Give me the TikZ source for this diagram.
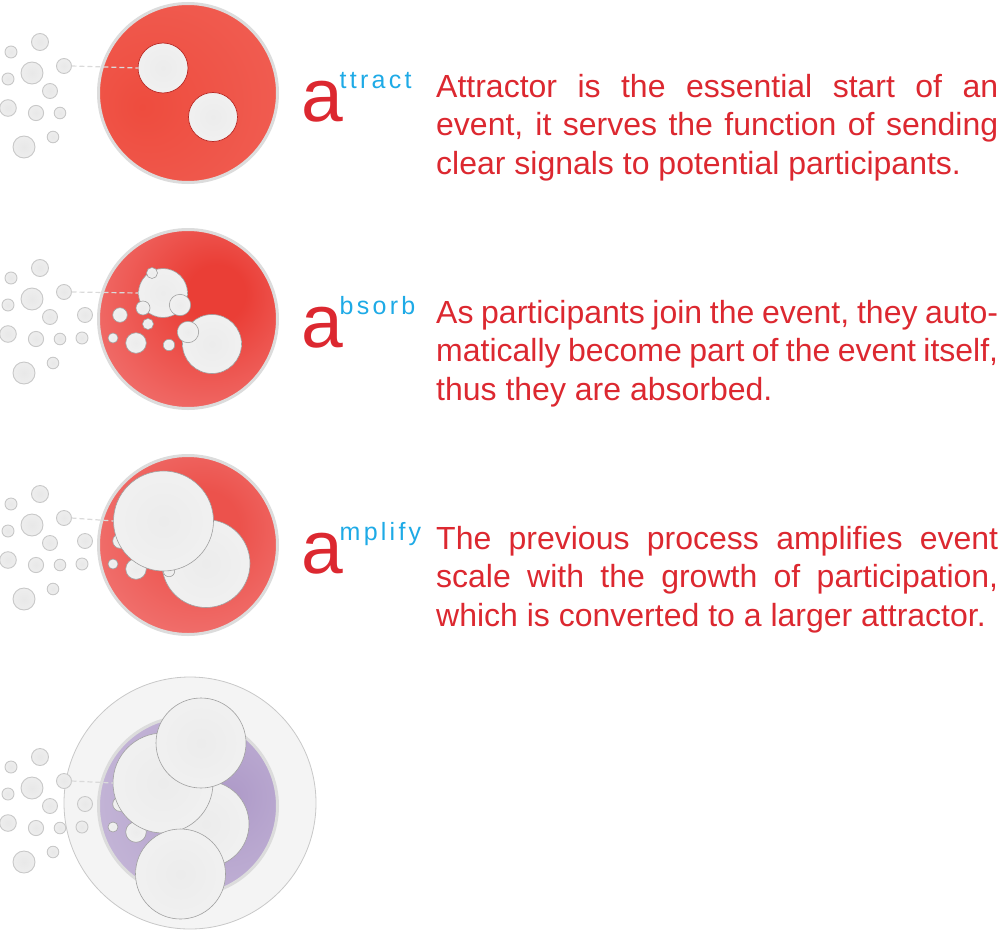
\documentclass[tikz,border=0pt]{standalone}
\usepackage{fontspec}
\setmainfont{Liberation Sans}
\newfontfamily\supfont[LetterSpace=13]{Liberation Sans}
\definecolor{txtred}{RGB}{220,40,48}
\definecolor{supcyan}{RGB}{30,170,230}
\definecolor{ringgray}{RGB}{220,220,220}
\definecolor{scircle}{RGB}{200,200,200}
\definecolor{wline}{RGB}{160,160,160}
\definecolor{wlinered}{RGB}{185,40,35}
\definecolor{dashgray}{RGB}{218,218,218}
\definecolor{paleline}{RGB}{200,200,200}
% shading colours
\definecolor{rin1}{RGB}{238,76,62}
\definecolor{rout1}{RGB}{241,100,90}
\definecolor{rin2}{RGB}{234,62,54}
\definecolor{rout2}{RGB}{244,140,140}
\definecolor{rin3}{RGB}{236,82,76}
\definecolor{rout3}{RGB}{244,140,140}
\definecolor{pin}{RGB}{174,154,200}
\definecolor{pout}{RGB}{206,194,222}
\definecolor{win}{RGB}{236,236,236}
\definecolor{wout}{RGB}{245,245,245}
\definecolor{sin}{RGB}{232,232,232}
\definecolor{sout}{RGB}{243,243,243}
\definecolor{palein}{RGB}{244,244,244}
\definecolor{paleout}{RGB}{238,238,238}
\pgfdeclareradialshading{redA}{\pgfpoint{-13bp}{-4bp}}{color(0bp)=(rin1); color(50bp)=(rout1); color(70bp)=(rout1)}
\pgfdeclareradialshading{redB}{\pgfpoint{9bp}{8bp}}{color(0bp)=(rin2); color(8bp)=(rin2); color(50bp)=(rout2); color(75bp)=(rout2)}
\pgfdeclareradialshading{redC}{\pgfpoint{5bp}{6bp}}{color(0bp)=(rin3); color(10bp)=(rin3); color(50bp)=(rout3); color(75bp)=(rout3)}
\pgfdeclareradialshading{purp}{\pgfpoint{12bp}{3bp}}{color(0bp)=(pin); color(50bp)=(pout); color(75bp)=(pout)}
\pgfdeclareradialshading{wshade}{\pgfpoint{0bp}{0bp}}{color(0bp)=(win); color(50bp)=(wout); color(70bp)=(wout)}
\pgfdeclareradialshading{sshade}{\pgfpoint{0bp}{0bp}}{color(0bp)=(sin); color(50bp)=(sout); color(70bp)=(sout)}
\pgfdeclareradialshading{paleshade}{\pgfpoint{0bp}{0bp}}{color(0bp)=(palein); color(40bp)=(palein); color(50bp)=(paleout); color(70bp)=(paleout)}
\begin{document}
\begin{tikzpicture}[x=1pt,y=-1pt,
  base/.style={circle,inner sep=0pt,outer sep=0pt},
  smallc/.style={base,draw=scircle,line width=0.9pt,shade,shading=sshade},
  wc/.style={base,draw=wline,line width=0.6pt,shade,shading=wshade},
  wcr/.style={wc,draw=wlinered,line width=0.7pt},
  bigc/.style={base,draw=ringgray,line width=3pt,minimum size=179pt,shade},
  body/.style={font=\fontsize{32pt}{38pt}\selectfont,text=txtred,anchor=base west,inner sep=0pt},
  biga/.style={font=\fontsize{75pt}{75pt}\selectfont,text=txtred,anchor=base west,inner sep=0pt},
  supl/.style={font=\supfont\fontsize{25pt}{25pt}\selectfont,text=supcyan,anchor=base west,inner sep=0pt},
  link/.style={draw=dashgray,dash pattern=on 5pt off 3pt,line width=1.2pt}
]
\useasboundingbox (0,0) rectangle (1000,934);

% ---------- Row 1 ----------
\node[bigc,shading=redA] (c1) at (188,93) {};
\foreach \x/\y/\r [count=\i] in {40/42/8.5,11/52/6,32/73/11,64/66/7.5,8/79/6,50/91/7.5,8/108/8.3,36/113/7.6,60/113/5.8,53/137/5.8,24/147/11}
  \node[smallc,minimum size={2*\r pt}] (ra\i) at (\x,\y) {};
\node[wcr,minimum size=50pt] (a1A) at (163,68) {};
\node[wcr,minimum size=49pt] (a1B) at (213,117) {};
\draw[link] (ra4.east) -- (a1A.west);

% ---------- Row 2 ----------
\node[bigc,shading=redB] (c2) at (188,319) {};
\foreach \x/\y/\r [count=\i] in {40/42/8.5,11/52/6,32/73/11,64/66/7.5,8/79/6,50/91/7.5,8/108/8.3,36/113/7.6,60/113/5.8,53/137/5.8,24/147/11,85/89/7.5,82/112/6}
  \node[smallc,minimum size={2*\r pt}] (rb\i) at (\x,\y+226) {};
\node[wc,minimum size=49pt] (a2A) at (163,293) {};
\node[wc,minimum size=59pt] (a2B) at (212,344) {};
\foreach \x/\y/\r [count=\i] in {152/273/5.5,180/305/10.7,143/308/7,120/315/7.3,148/324/5.5,113/338/5,136/343/10.3,169/345/5.7,188/332/10.7}
  \node[wc,minimum size={2*\r pt}] (pb\i) at (\x,\y) {};
\draw[link] (rb4.east) -- (a2A.west);

% ---------- Row 3 ----------
\node[bigc,shading=redC] (c3) at (188,545) {};
\foreach \x/\y/\r [count=\i] in {40/42/8.5,11/52/6,32/73/11,64/66/7.5,8/79/6,50/91/7.5,8/108/8.3,36/113/7.6,60/113/5.8,53/137/5.8,24/147/11,85/89/7.5,82/112/6}
  \node[smallc,minimum size={2*\r pt}] (rc\i) at (\x,\y+452) {};
\foreach \x/\y/\r [count=\i] in {152/499/5.5,180/531/10.7,143/534/7,120/541/7.3,148/550/5.5,113/564/5,136/569/10.3,188/558/10.7}
  \node[wc,minimum size={2*\r pt}] (pc\i) at (\x,\y) {};
\node[wc,minimum size=88pt] (a3B) at (206,563.5) {};
\node[wc,minimum size=11.4pt] (pc9) at (169,571) {};
\node[wc,minimum size=100pt] (a3A) at (163.5,521) {};
\draw[link] (rc4.east) -- (a3A.west);

% ---------- Row 4 ----------
\node[base,draw=paleline,line width=0.8pt,minimum size=252pt,shade,shading=paleshade] (o4) at (190,803) {};
\node[bigc,draw=ringgray,shading=purp] (c4) at (188,806) {};
\foreach \x/\y/\r [count=\i] in {40/42/8.5,11/52/6,32/73/11,64/66/7.5,8/79/6,50/91/7.5,8/108/8.3,36/113/7.6,60/113/5.8,53/137/5.8,24/147/11,85/89/7.5,82/112/6}
  \node[smallc,minimum size={2*\r pt}] (rd\i) at (\x,\y+715) {};
\foreach \x/\y/\r [count=\i] in {152/762/5.5,180/794/10.7,143/797/7,120/804/7.3,148/813/5.5,113/827/5,136/832/10.3,188/821/10.7}
  \node[wc,minimum size={2*\r pt}] (pd\i) at (\x,\y) {};
\node[wc,minimum size=86pt] (a4B) at (206,824) {};
\node[wc,minimum size=100pt] (a4A) at (163,783) {};
\node[wc,minimum size=90pt] (a4C) at (201,743) {};
\node[wc,minimum size=90pt] (a4D) at (180.5,874) {};
\draw[link] (rd4.east) -- (a4A.west);

% ---------- Texts ----------
\node[biga] (la1) at (301,121) {a};
\node[supl] (su1) at (339.5,88) {ttract};
\node[body] (t1a) at (436,97) {\makebox[562pt][s]{Attractor is the essential start of an}};
\node[body] (t1b) at (436,135.7) {\makebox[562pt][s]{event, it serves the function of sending}};
\node[body] (t1c) at (436,174.4) {clear signals to potential participants.};

\node[biga] (la2) at (301,347) {a};
\node[supl] (su2) at (339.5,314) {bsorb};
\node[body] (t2a) at (436,323) {\makebox[562pt][s]{As participants join the event, they auto-}};
\node[body] (t2b) at (436,361.7) {\makebox[562pt][s]{matically become part of the event itself,}};
\node[body] (t2c) at (436,400.4) {thus they are absorbed.};

\node[biga] (la3) at (301,573) {a};
\node[supl] (su3) at (339.5,540) {mplify};
\node[body] (t3a) at (436,549) {\makebox[562pt][s]{The previous process amplifies event}};
\node[body] (t3b) at (436,587.7) {\makebox[562pt][s]{scale with the growth of participation,}};
\node[body] (t3c) at (436,626.4) {which is converted to a larger attractor.};
\end{tikzpicture}
\end{document}
